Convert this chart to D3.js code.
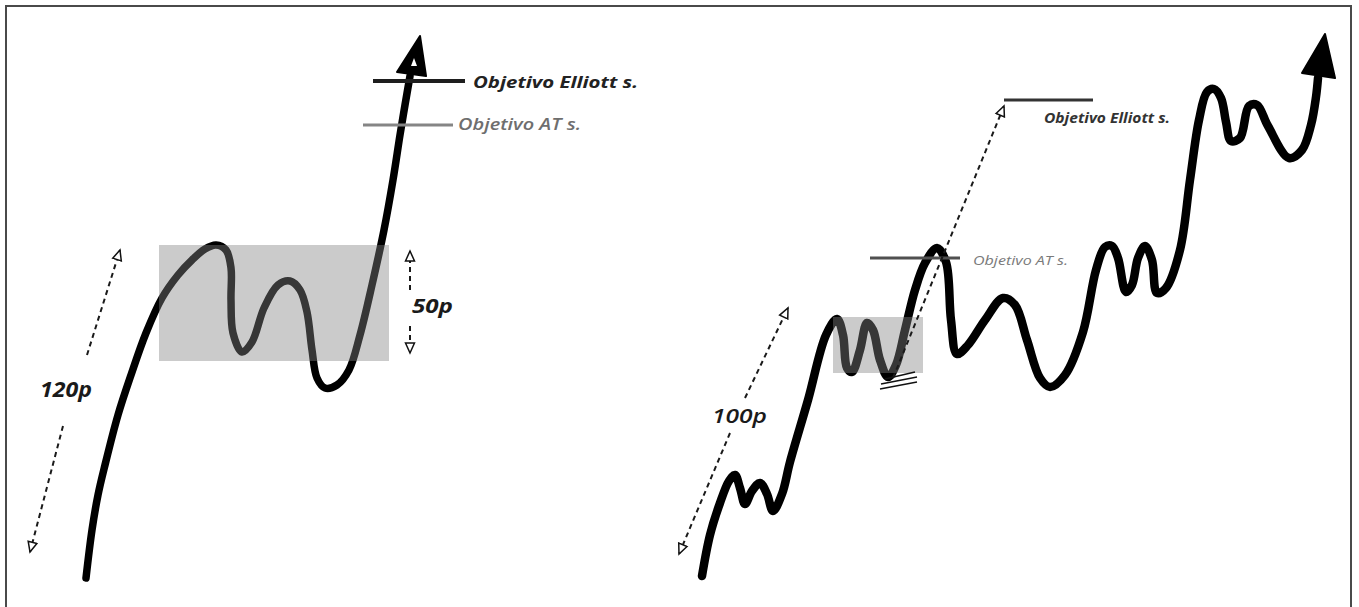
<!DOCTYPE html>
<html>

<head>
  <meta charset="utf-8">
  <title>Objetivo Elliott vs Objetivo AT</title>
  <style>
  body {
    margin: 0;
    background: #fff;
    font-family: "Open Sans", sans-serif;
  }
</style>
</head>

<body>
  <div id="viz"></div>

  <script src="https://d3js.org/d3.v7.min.js"></script>
  <script>
    // waves: [time, price level]
    const leftWave = [
      [86, 22], [92, 70], [98, 105], [105, 135], [118, 185], [131, 225], [146, 267],
      [162, 302], [178, 325], [192, 340], [205, 351], [216, 355], [226, 350], [231, 332],
      [231, 300], [233, 267], [242, 248], [252, 258], [264, 292], [278, 315], [290, 319],
      [300, 310], [307, 288], [312, 250], [317, 222], [325, 212], [337, 215], [349, 230],
      [360, 265], [372, 315], [384, 370], [393, 420], [400, 465], [405, 495], [410, 524]
    ];
    const rightWave = [
      [702, 24], [710, 65], [720, 97], [729, 119], [735, 125], [740, 112], [745, 96],
      [752, 109], [760, 117], [767, 106], [773, 89], [782, 106], [790, 138], [808, 200],
      [826, 265], [837, 281], [843, 265], [847, 232], [852, 228], [860, 250], [867, 277],
      [873, 270], [880, 240], [888, 223], [896, 235], [905, 270], [915, 310], [925, 337],
      [937, 352], [946, 338], [951, 280], [957, 246], [968, 255], [985, 280], [1003, 302],
      [1015, 295], [1027, 260], [1040, 222], [1050, 213], [1065, 225], [1083, 268],
      [1096, 330], [1105, 353], [1112, 354], [1118, 342], [1126, 308], [1132, 315],
      [1138, 342], [1145, 354], [1152, 340], [1157, 307], [1166, 312], [1180, 350],
      [1190, 420], [1199, 480], [1207, 508], [1214, 511], [1221, 502], [1226, 478],
      [1231, 459], [1240, 462], [1249, 494], [1257, 495], [1268, 474], [1289, 442],
      [1302, 450], [1311, 475], [1316, 503], [1318, 522]
    ];
    const waveWidths = [7.5, 8.5];

    // arrow heads at the end of each wave
    const leftHead = [[420, 564], [397, 528], [426, 524]];
    const leftNotch = [[414, 542], [411, 534], [417, 534]];
    const rightHead = [[1325, 566], [1302, 527], [1335, 522]];

    // consolidation zones: [t0, t1, low, high]
    const zones = [[159, 389, 239, 355], [833, 923, 227, 283]];

    // target levels: [t0, t1, level]
    const targetLines = [[373, 465, 519], [363, 453, 475], [1004, 1093, 500], [870, 960, 342]];
    const targetNames = ["Objetivo Elliott s.", "Objetivo AT s.", "Objetivo Elliott s.", "Objetivo AT s."];
    const targetLabelPos = [[473, 512], [458, 470], [1044, 477], [973, 335]];
    const targetLabelLen = [165, 123, 126, 95];

    // dashed measuring arrows: [t0, p0, t1, p1] (head at the second point)
    const rulers = [
      [87, 245, 120, 350], [63, 174, 30, 48],
      [410, 310, 410, 349], [410, 274, 410, 247],
      [745, 202, 788, 292], [730, 167, 679, 46],
      [893, 222, 1004, 494]
    ];
    const rulerNames = ["120p", "50p", "100p"];
    const rulerLabelPos = [[40, 203], [412, 287], [712, 177]];
    const rulerLabelLen = [52, 41, 55];

    // double bottom tick marks
    const ticks = [[885, 221, 915, 228], [881, 216, 917, 223], [880, 211, 917, 218]];

    let svgWidth = 1359;
    let svgHeight = 607;

    let svg = d3.select("#viz")
      .append("svg")
      .attr("width", svgWidth)
      .attr("height", svgHeight);

    // scales
    let x = d3.scaleLinear().domain([0, 1359]).range([0, 1359]);
    let y = d3.scaleLinear().domain([0, 600]).range([600, 0]);

    // frame
    svg.append("rect")
      .attr("x", 6).attr("y", 6)
      .attr("width", 1345).attr("height", 610)
      .attr("fill", "none")
      .attr("stroke", "#4a4a4a")
      .attr("stroke-width", 2);

    // hollow arrow marker
    svg.append("defs").append("marker")
      .attr("id", "hollow")
      .attr("viewBox", "-1 -6 13 12")
      .attr("refX", 10).attr("refY", 0)
      .attr("markerWidth", 13).attr("markerHeight", 12)
      .attr("markerUnits", "userSpaceOnUse")
      .attr("orient", "auto")
      .append("path")
      .attr("d", "M0,-4.5L10,0L0,4.5Z")
      .attr("fill", "#fff")
      .attr("stroke", "#111")
      .attr("stroke-width", 1.5);

    let line = d3.line()
      .x(d => x(d[0]))
      .y(d => y(d[1]))
      .curve(d3.curveCatmullRom.alpha(0.5));

    // waves
    [leftWave, rightWave].forEach((w, i) => {
      svg.append("path")
        .attr("d", line(w))
        .attr("fill", "none")
        .attr("stroke", "#000")
        .attr("stroke-width", waveWidths[i])
        .attr("stroke-linecap", "round")
        .attr("stroke-linejoin", "round");
    });

    let poly = d3.line().x(d => x(d[0])).y(d => y(d[1]));
    svg.append("path").attr("d", poly(leftHead) + "Z").attr("fill", "#000")
      .attr("stroke", "#000").attr("stroke-width", 2).attr("stroke-linejoin", "round");
    svg.append("path").attr("d", poly(leftNotch) + "Z").attr("fill", "#fff");
    svg.append("path").attr("d", poly(rightHead) + "Z").attr("fill", "#000")
      .attr("stroke", "#000").attr("stroke-width", 2).attr("stroke-linejoin", "round");

    // shaded zones over the waves
    svg.selectAll(".zone")
      .data(zones)
      .join("rect")
      .attr("class", "zone")
      .attr("x", d => x(d[0]))
      .attr("y", d => y(d[3]))
      .attr("width", d => x(d[1]) - x(d[0]))
      .attr("height", d => y(d[2]) - y(d[3]))
      .attr("fill", "#828282")
      .attr("fill-opacity", 0.42);

    // target lines + labels
    let lineColors = ["#1e1e1e", "#858585", "#333", "#505050"];
    let lineWidths = [4, 3, 3, 3];
    let textColors = ["#222", "#6e6e6e", "#333", "#7a7a7a"];
    let textSizes = [16, 16, 14, 13];
    let textWeights = [700, 600, 700, 400];

    svg.selectAll(".target")
      .data(targetLines)
      .join("line")
      .attr("class", "target")
      .attr("x1", d => x(d[0]))
      .attr("x2", d => x(d[1]))
      .attr("y1", d => y(d[2]))
      .attr("y2", d => y(d[2]))
      .attr("stroke", (d, i) => lineColors[i])
      .attr("stroke-width", (d, i) => lineWidths[i]);

    svg.selectAll(".target-label")
      .data(targetNames)
      .join("text")
      .attr("class", "target-label")
      .attr("x", (d, i) => x(targetLabelPos[i][0]))
      .attr("y", (d, i) => y(targetLabelPos[i][1]))
      .attr("textLength", (d, i) => targetLabelLen[i])
      .attr("lengthAdjust", "spacingAndGlyphs")
      .style("font-size", (d, i) => textSizes[i] + "px")
      .style("font-style", "italic")
      .style("font-weight", (d, i) => textWeights[i])
      .attr("fill", (d, i) => textColors[i])
      .text(d => d);

    // dashed rulers
    svg.selectAll(".ruler")
      .data(rulers)
      .join("line")
      .attr("class", "ruler")
      .attr("x1", d => x(d[0]))
      .attr("y1", d => y(d[1]))
      .attr("x2", d => x(d[2]))
      .attr("y2", d => y(d[3]))
      .attr("stroke", "#1a1a1a")
      .attr("stroke-width", 2)
      .attr("stroke-dasharray", "5,4")
      .attr("marker-end", "url(#hollow)");

    let rulerWeights = [700, 700, 600];
    let rulerSizes = [21, 20, 19];
    svg.selectAll(".ruler-label")
      .data(rulerNames)
      .join("text")
      .attr("class", "ruler-label")
      .attr("x", (d, i) => x(rulerLabelPos[i][0]))
      .attr("y", (d, i) => y(rulerLabelPos[i][1]))
      .attr("textLength", (d, i) => rulerLabelLen[i])
      .attr("lengthAdjust", "spacingAndGlyphs")
      .style("font-size", (d, i) => rulerSizes[i] + "px")
      .style("font-style", "italic")
      .style("font-weight", (d, i) => rulerWeights[i])
      .attr("fill", "#1a1a1a")
      .text(d => d);

    // tick marks under the low
    svg.selectAll(".tick-mark")
      .data(ticks)
      .join("line")
      .attr("class", "tick-mark")
      .attr("x1", d => x(d[0]))
      .attr("y1", d => y(d[1]))
      .attr("x2", d => x(d[2]))
      .attr("y2", d => y(d[3]))
      .attr("stroke", "#111")
      .attr("stroke-width", 1.5);
  </script>

</body>
</html>
